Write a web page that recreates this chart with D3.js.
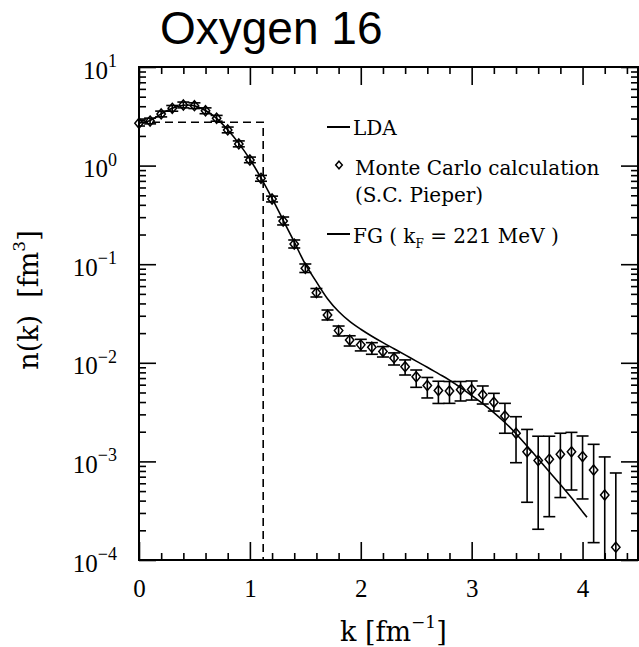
<!DOCTYPE html>
<html>
<head>
<meta charset="utf-8">
<script src="https://cdn.jsdelivr.net/npm/d3@7"></script>
<style>
  body { margin: 0; background: #fff; }
  .axis .domain { display: none; }
  .axis line { stroke: #000; stroke-width: 1.6; }
  .axis text { font-family: "Liberation Serif", serif; font-size: 25px; fill: #000; }
  .lbl { font-family: "DejaVu Serif", serif; fill: #000; }
</style>
</head>
<body>
<div id="chart"></div>
<script>
// Monte Carlo points (S.C. Pieper), k in fm^-1, n(k) in fm^3
var mcK = [0, 0.1, 0.2, 0.3, 0.4, 0.5, 0.6, 0.7, 0.8, 0.9,
           1.0, 1.1, 1.2, 1.3, 1.4, 1.5, 1.6, 1.7, 1.8, 1.9,
           2.0, 2.1, 2.2, 2.3, 2.4, 2.5, 2.6, 2.7, 2.8, 2.9,
           3.0, 3.1, 3.2, 3.3, 3.4, 3.5, 3.6, 3.7, 3.8, 3.9,
           4.0, 4.1, 4.2, 4.3];
var mcN = [2.69, 2.83, 3.34, 3.81, 4.12, 4.05, 3.60, 3.02, 2.30, 1.66,
           1.14, 0.743, 0.458, 0.274, 0.160, 0.0908, 0.0514, 0.0305, 0.0212, 0.0170,
           0.0152, 0.0144, 0.0130, 0.0112, 0.00913, 0.00722, 0.00589, 0.00524, 0.00518, 0.00534,
           0.00536, 0.00475, 0.00398, 0.00289, 0.00193, 0.00125, 0.00102, 0.00105, 0.00118, 0.00125,
           0.00112, 0.000818, 0.000456, 0.000135];
var mcHi = [2.88, 3.03, 3.57, 4.07, 4.41, 4.33, 3.85, 3.23, 2.46, 1.78,
            1.22, 0.795, 0.490, 0.301, 0.176, 0.1005, 0.0567, 0.0343, 0.0236, 0.0188,
            0.0173, 0.0160, 0.0146, 0.0126, 0.0107, 0.00845, 0.0071, 0.0065, 0.00646, 0.00646,
            0.00654, 0.00582, 0.0049, 0.00388, 0.00284, 0.00211, 0.0018, 0.0018, 0.00193, 0.00197,
            0.00181, 0.00149, 0.00111, 0.000763];
var mcLo = [2.52, 2.65, 3.12, 3.56, 3.85, 3.79, 3.36, 2.82, 2.15, 1.55,
            1.07, 0.694, 0.428, 0.250, 0.146, 0.0824, 0.0465, 0.0272, 0.0187, 0.0148,
            0.0132, 0.0122, 0.01145, 0.0095, 0.00752, 0.00564, 0.0044, 0.00387, 0.00388, 0.0041,
            0.00419, 0.00382, 0.00324, 0.00193, 0.00097, 0.000385, 0.000205, 0.000275, 0.00043, 0.000513,
            0.000416, 0.000150, 0.00001, 0.00001];

// LDA curve
var ldaK = [0, 0.1, 0.2, 0.3, 0.4, 0.5, 0.6, 0.7, 0.8, 0.9,
            1.0, 1.1, 1.2, 1.3, 1.4, 1.5, 1.6, 1.7, 1.8, 1.9,
            2.0, 2.1, 2.2, 2.3, 2.4, 2.5, 2.6, 2.7, 2.8, 2.9,
            3.0, 3.1, 3.2, 3.3, 3.4, 3.5, 3.6, 3.7, 3.8, 3.9,
            4.0, 4.04];
var ldaN = [2.69, 2.86, 3.35, 3.82, 4.10, 4.04, 3.62, 3.02, 2.31, 1.68,
            1.16, 0.75, 0.465, 0.28, 0.168, 0.100, 0.0661, 0.0447, 0.0331, 0.0263,
            0.0219, 0.0186, 0.0160, 0.01387, 0.01202, 0.0104, 0.00902, 0.00776, 0.00668, 0.0056,
            0.00466, 0.00385, 0.00313, 0.00248, 0.00191, 0.00143, 0.00106, 0.000785, 0.000582, 0.000427,
            0.000309, 0.000271];

// free Fermi gas step, k_F = 221 MeV = 1.12 fm^-1
var fgK = [0, 1.12, 1.12];
var fgN = [2.75, 2.75, 1e-4];

// ticks
var xMajor = [0, 1, 2, 3, 4];
var xMinor = [0.2, 0.4, 0.6, 0.8, 1.2, 1.4, 1.6, 1.8, 2.2, 2.4, 2.6, 2.8,
              3.2, 3.4, 3.6, 3.8, 4.2, 4.4];
var yMajor = [1e-4, 1e-3, 1e-2, 1e-1, 1, 10];
var yExp = [-4, -3, -2, -1, 0, 1];

var width = 639, height = 647;
var plot = {left: 139, right: 638, top: 67, bottom: 560};

var svg = d3.select("#chart").append("svg")
    .attr("width", width)
    .attr("height", height);

var xScale = d3.scaleLinear().domain([0, 4.5]).range([plot.left, plot.right]);
var yScale = d3.scaleLog().domain([1e-4, 10]).range([plot.bottom, plot.top]);

// minor log ticks 2..9 in each decade
var yMinor = [];
yMajor.slice(0, -1).forEach(function(d){
  for (var m = 2; m <= 9; m++) yMinor.push(m * d);
});

// title
svg.append("text")
    .attr("x", 160)
    .attr("y", 44)
    .style("font-family", "'Liberation Sans', Arial, sans-serif")
    .style("font-size", "46px")
    .text("Oxygen 16");

// axes, ticks pointing inwards on all four sides
function addAxis(axis, tx, ty){
  svg.append("g")
    .attr("class", "axis")
    .attr("transform", "translate(" + tx + "," + ty + ")")
    .call(axis);
}
addAxis(d3.axisBottom(xScale).tickValues(xMajor).tickSize(-18).tickPadding(19).tickFormat(d3.format("d")), 0, plot.bottom);
addAxis(d3.axisBottom(xScale).tickValues(xMinor).tickSize(-7).tickFormat(""), 0, plot.bottom);
addAxis(d3.axisTop(xScale).tickValues(xMajor).tickSize(-18).tickFormat(""), 0, plot.top);
addAxis(d3.axisTop(xScale).tickValues(xMinor).tickSize(-7).tickFormat(""), 0, plot.top);
addAxis(d3.axisLeft(yScale).tickValues(yMajor).tickSize(-17).tickFormat(""), plot.left, 0);
addAxis(d3.axisLeft(yScale).tickValues(yMinor).tickSize(-7).tickFormat(""), plot.left, 0);
addAxis(d3.axisRight(yScale).tickValues(yMajor).tickSize(-17).tickFormat(""), plot.right, 0);
addAxis(d3.axisRight(yScale).tickValues(yMinor).tickSize(-7).tickFormat(""), plot.right, 0);

// frame
svg.append("rect")
    .attr("x", plot.left)
    .attr("y", plot.top)
    .attr("width", plot.right - plot.left)
    .attr("height", plot.bottom - plot.top)
    .style("fill", "none")
    .style("stroke", "#000")
    .style("stroke-width", 2);

// y tick labels 10^n
yMajor.forEach(function(v, i){
  var t = svg.append("text")
      .attr("x", 117)
      .attr("y", yScale(v) + 11.5)
      .attr("text-anchor", "end")
      .style("font-family", "'Liberation Serif', serif");
  t.append("tspan").style("font-size", "25px").text("10");
  t.append("tspan")
      .attr("dy", -11.5)
      .style("font-size", "18px")
      .text(yExp[i] < 0 ? "\u2212" + (-yExp[i]) : yExp[i]);
});

// axis titles
var xl = svg.append("text")
    .attr("class", "lbl")
    .attr("x", 340)
    .attr("y", 641)
    .style("font-size", "27px");
xl.append("tspan").text("k [fm");
xl.append("tspan").attr("dy", -13).style("font-size", "17px").text("\u22121");
xl.append("tspan").attr("dy", 13).text("]");

var yl = svg.append("text")
    .attr("class", "lbl")
    .attr("transform", "translate(38,300) rotate(-90)")
    .attr("text-anchor", "middle")
    .style("font-size", "27px");
yl.append("tspan").text("n(k)\u00a0\u00a0[fm");
yl.append("tspan").attr("dy", -13).style("font-size", "17px").text("3");
yl.append("tspan").attr("dy", 13).text("]");

// clip for things that run off the bottom
svg.append("clipPath").attr("id", "clip")
  .append("rect")
    .attr("x", plot.left)
    .attr("y", plot.top)
    .attr("width", plot.right - plot.left)
    .attr("height", plot.bottom - plot.top);

// FG dashed step
var fgLine = d3.line()
    .x(function(d){ return xScale(d[0]); })
    .y(function(d){ return yScale(d[1]); });
svg.append("path")
    .datum(fgK.map(function(k, i){ return [k, fgN[i]]; }))
    .attr("d", fgLine)
    .style("fill", "none")
    .style("stroke", "#000")
    .style("stroke-width", 1.6)
    .style("stroke-dasharray", "8,5");

// LDA curve
var ldaLine = d3.line()
    .curve(d3.curveCatmullRom)
    .x(function(d){ return xScale(d[0]); })
    .y(function(d){ return yScale(d[1]); });
svg.append("path")
    .datum(ldaK.map(function(k, i){ return [k, ldaN[i]]; }))
    .attr("d", ldaLine)
    .style("fill", "none")
    .style("stroke", "#000")
    .style("stroke-width", 1.6);

// Monte Carlo error bars and diamonds
var mc = mcK.map(function(k, i){
  return {k: k, n: mcN[i], hi: mcHi[i], lo: mcLo[i]};
});

var bars = svg.append("g").attr("clip-path", "url(#clip)")
    .selectAll("g")
    .data(mc)
    .enter()
    .append("g")
    .style("stroke", "#000")
    .style("stroke-width", 1.6);
bars.append("line")
    .attr("x1", function(d){ return xScale(d.k); })
    .attr("x2", function(d){ return xScale(d.k); })
    .attr("y1", function(d){ return yScale(d.hi); })
    .attr("y2", function(d){ return yScale(d.lo); });
bars.append("line")
    .attr("x1", function(d){ return xScale(d.k) - 6; })
    .attr("x2", function(d){ return xScale(d.k) + 6; })
    .attr("y1", function(d){ return yScale(d.hi); })
    .attr("y2", function(d){ return yScale(d.hi); });
bars.append("line")
    .attr("x1", function(d){ return xScale(d.k) - 6; })
    .attr("x2", function(d){ return xScale(d.k) + 6; })
    .attr("y1", function(d){ return yScale(d.lo); })
    .attr("y2", function(d){ return yScale(d.lo); });

function diamond(w, h){
  return "M0," + (-h) + "L" + w + ",0L0," + h + "L" + (-w) + ",0Z";
}

svg.append("g")
    .selectAll("path")
    .data(mc)
    .enter()
    .append("path")
    .attr("transform", function(d){
      return "translate(" + xScale(d.k) + "," + yScale(d.n) + ")";
    })
    .attr("d", diamond(4.2, 5))
    .style("fill", "none")
    .style("stroke", "#000")
    .style("stroke-width", 1.5);

// legend
var legend = svg.append("g");
legend.append("line")
    .attr("x1", 327).attr("x2", 350).attr("y1", 127).attr("y2", 127)
    .style("stroke", "#000").style("stroke-width", 2);
legend.append("text").attr("class", "lbl")
    .attr("x", 353).attr("y", 135).style("font-size", "20px").text("LDA");

legend.append("path")
    .attr("transform", "translate(339,165)")
    .attr("d", diamond(3.3, 3.8))
    .style("fill", "none").style("stroke", "#000").style("stroke-width", 1.5);
legend.append("text").attr("class", "lbl")
    .attr("x", 355).attr("y", 175).style("font-size", "20px").text("Monte Carlo calculation");
legend.append("text").attr("class", "lbl")
    .attr("x", 355).attr("y", 202).style("font-size", "20px").text("(S.C. Pieper)");

legend.append("line")
    .attr("x1", 327).attr("x2", 350).attr("y1", 234).attr("y2", 234)
    .style("stroke", "#000").style("stroke-width", 2);
var fgText = legend.append("text").attr("class", "lbl")
    .attr("x", 353).attr("y", 243).style("font-size", "20px");
fgText.append("tspan").text("FG ( k");
fgText.append("tspan").attr("dy", 5).style("font-size", "12px").text("F");
fgText.append("tspan").attr("dy", -5).text(" = 221 MeV )");
</script>
</body>
</html>
